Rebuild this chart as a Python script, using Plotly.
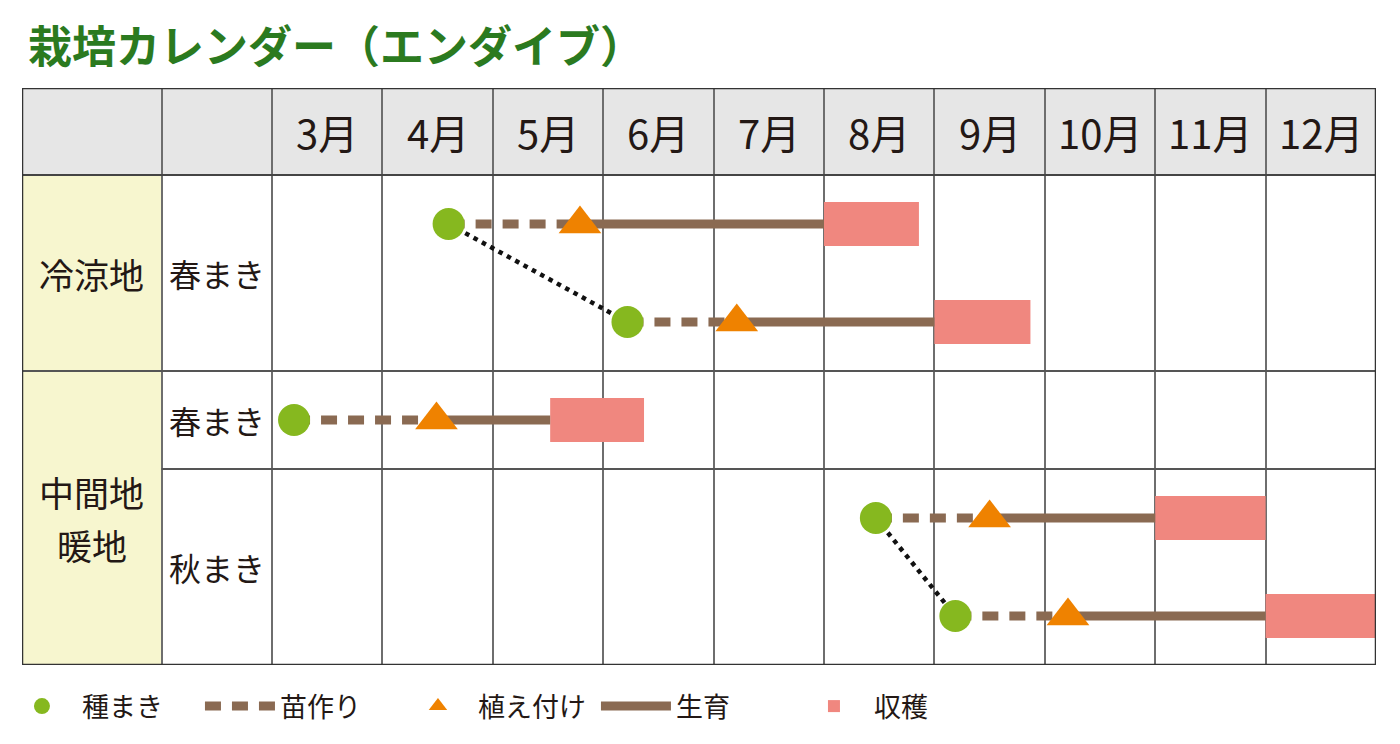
import plotly.graph_objects as go

# -------------------------------
# data (x = month, 3.0 = start of March)
# -------------------------------
months = ["3月", "4月", "5月", "6月", "7月", "8月", "9月", "10月", "11月", "12月"]
month_start = [3, 4, 5, 6, 7, 8, 9, 10, 11, 12]

regions = [["冷涼地"], ["中間地", "暖地"]]
region_rows = [1.0, 3.5]
sow_types = ["春まき", "春まき", "秋まき"]
sow_type_rows = [1.0, 2.5, 4.0]

# one line per schedule
rows = [0.5, 1.5, 2.5, 3.5, 4.5]
sow = [4.6, 6.22, 3.2, 8.47, 9.19]
plant = [5.79, 7.21, 4.49, 9.5, 10.21]
harvest_start = [8.0, 9.0, 5.52, 11.0, 12.0]
harvest_end = [8.86, 9.87, 6.37, 12.0, 13.0]

# sowing dates linked by dotted lines (pairs of row indices)
linked = [(0, 1), (3, 4)]

# -------------------------------
# colours
# -------------------------------
GREEN = "#86b81f"
ORANGE = "#ef8200"
BROWN = "#8a6a52"
PINK = "#f0877f"
TITLE_GREEN = "#2b7a1f"
TEXT = "#231815"
FONT = "Noto Sans CJK JP"

x_left = 0.736
x_right = 13.0
y_head = -0.888
y_bottom = 5.0


def segments(starts, ends, ys):
    xs, yy = [], []
    for a, b, y in zip(starts, ends, ys):
        xs += [a, b, None]
        yy += [y, y, None]
    return xs, yy


fig = go.Figure()

# dotted links between sowing dates
dot_x, dot_y = [], []
for a, b in linked:
    dot_x += [sow[a], sow[b], None]
    dot_y += [rows[a], rows[b], None]
fig.add_trace(go.Scatter(x=dot_x, y=dot_y, mode="lines", showlegend=False,
                         line=dict(color="#111111", width=4.5, dash="4.5px,5px"),
                         hoverinfo="skip"))

# harvest
fig.add_trace(go.Bar(
    y=rows, x=[e - s for s, e in zip(harvest_start, harvest_end)],
    base=harvest_start, orientation="h", width=0.45,
    marker=dict(color=PINK, line=dict(width=0)),
    name="収穫", legendrank=5,
))

# nursery (dashed)
nx, ny = segments(sow, plant, rows)
fig.add_trace(go.Scatter(x=nx, y=ny, mode="lines", name="苗作り", legendrank=2,
                         line=dict(color=BROWN, width=9, dash="16px,11px")))

# growth (solid)
gx, gy = segments(plant, harvest_start, rows)
fig.add_trace(go.Scatter(x=gx, y=gy, mode="lines", name="生育", legendrank=4,
                         line=dict(color=BROWN, width=9)))

# sowing
fig.add_trace(go.Scatter(x=sow, y=rows, mode="markers", name="種まき", legendrank=1,
                         marker=dict(symbol="circle", size=32, color=GREEN)))

# planting
fig.add_trace(go.Scatter(x=plant, y=rows, mode="markers", name="植え付け", legendrank=3,
                         marker=dict(symbol="triangle-up", size=37, color=ORANGE)))

# -------------------------------
# table background and rules
# -------------------------------
shapes = [
    dict(type="rect", xref="x", yref="y", x0=x_left, x1=x_right, y0=y_head, y1=0,
         fillcolor="#e6e6e6", line=dict(width=0), layer="below"),
    dict(type="rect", xref="x", yref="y", x0=x_left, x1=2, y0=0, y1=y_bottom,
         fillcolor="#f7f6cf", line=dict(width=0), layer="below"),
    dict(type="line", xref="x", yref="y", x0=x_left, x1=x_right, y0=0, y1=0,
         line=dict(color="#444444", width=2), layer="between"),
    dict(type="line", xref="x", yref="y", x0=x_left, x1=x_right, y0=2, y1=2,
         line=dict(color="#555555", width=2), layer="between"),
    dict(type="line", xref="x", yref="y", x0=2, x1=x_right, y0=3, y1=3,
         line=dict(color="#555555", width=2), layer="between"),
    dict(type="rect", xref="x", yref="y", x0=x_left, x1=x_right, y0=y_head, y1=y_bottom,
         line=dict(color="#333333", width=2.5), layer="above"),
]

annotations = [
    dict(xref="paper", yref="paper", x=0.003, y=1.0, yshift=44, xanchor="left",
         yanchor="middle", showarrow=False,
         text="<b>栽培カレンダー（エンダイブ）</b>",
         font=dict(family=FONT, size=44, color=TITLE_GREEN)),
]
for m, label in zip(month_start, months):
    annotations.append(dict(x=m + 0.5, y=y_head / 2, xref="x", yref="y", text=label,
                            showarrow=False, font=dict(family=FONT, size=40, color=TEXT)))
for lines, r in zip(regions, region_rows):
    n = len(lines)
    for i, label in enumerate(lines):
        annotations.append(dict(x=(x_left + 2) / 2, y=r, xref="x", yref="y", text=label,
                                yshift=((n - 1) / 2 - i) * 53, showarrow=False,
                                font=dict(family=FONT, size=35, color=TEXT)))
for label, r in zip(sow_types, sow_type_rows):
    annotations.append(dict(x=2.5, y=r, xref="x", yref="y", text=label,
                            showarrow=False, font=dict(family=FONT, size=32, color=TEXT)))

# the page puts the figure 8px in from the top-left corner
fig.update_layout(
    width=1384, height=728,
    margin=dict(l=14, r=16, t=80, b=71, autoexpand=False),
    paper_bgcolor="white", plot_bgcolor="white",
    shapes=shapes, annotations=annotations,
    showlegend=True,
    legend=dict(orientation="h", x=-0.0148, xanchor="left", y=-0.072, yanchor="middle",
                font=dict(family=FONT, size=27, color=TEXT),
                itemwidth=70, entrywidth=113, bgcolor="rgba(0,0,0,0)"),
    font=dict(family=FONT),
)
fig.update_xaxes(range=[x_left, x_right], tickvals=[2] + month_start, showticklabels=False,
                 showgrid=True, gridcolor="#6e6e6e", gridwidth=2, zeroline=False,
                 ticks="", fixedrange=True)
fig.update_yaxes(range=[y_bottom, y_head], showticklabels=False, showgrid=False,
                 zeroline=False, ticks="", fixedrange=True)

fig.write_html("out.html")
